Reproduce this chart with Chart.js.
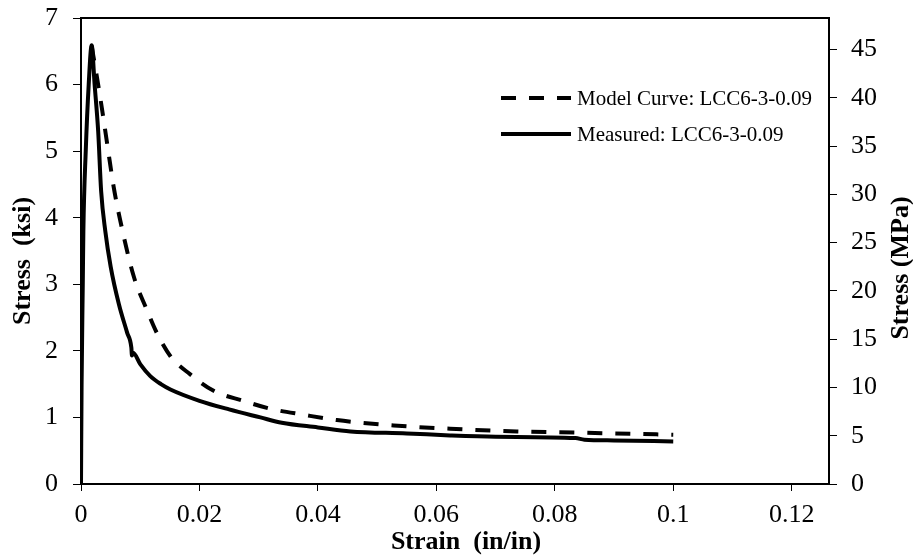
<!DOCTYPE html>
<html>
<head>
<meta charset="utf-8">
<script src="https://cdn.jsdelivr.net/npm/chart.js@4.4.1/dist/chart.umd.min.js"></script>
<style>
  html, body { margin: 0; padding: 0; background: #fff; }
  #wrap { width: 913px; height: 557px; position: relative; }
</style>
</head>
<body>
<div id="wrap"><canvas id="chart"></canvas></div>
<script>
var FONT = "'Liberation Serif', 'Times New Roman', serif";
var KSI_TO_MPA = 6.895;

var modelLabel = "Model Curve: LCC6-3-0.09";
var measuredLabel = "Measured: LCC6-3-0.09";
var leftTitle = "Stress  (ksi)";
var rightTitle = "Stress (MPa)";
var bottomTitle = "Strain  (in/in)";

// model curve (dashed), strain in/in vs stress ksi
var modelStrain = [0.0018, 0.0026, 0.0035, 0.0049, 0.0055, 0.0066, 0.0089, 0.0111, 0.0128, 0.0151,
                   0.0184, 0.0224, 0.0274, 0.032, 0.0376, 0.0432, 0.0528, 0.0623, 0.0736, 0.0848, 0.1];
var modelStress = [6.58, 6.16, 5.66, 4.82, 4.47, 3.97, 3.12, 2.62, 2.27, 1.92,
                   1.65, 1.40, 1.25, 1.13, 1.04, 0.96, 0.88, 0.83, 0.79, 0.77, 0.74];

// measured curve (solid)
var measuredStrain = [0, 0.0001, 0.0003, 0.0004, 0.0008, 0.0013, 0.0018, 0.0023, 0.0029, 0.0034,
                      0.0041, 0.005, 0.0064, 0.0078, 0.0085, 0.0086, 0.0088, 0.01, 0.0117, 0.0135,
                      0.0151, 0.02, 0.025, 0.0303, 0.0339, 0.04, 0.0455, 0.055, 0.0623, 0.07,
                      0.0835, 0.085, 0.09, 0.1];
var measuredStress = [0, 1.5, 3.0, 3.8, 5.0, 6.0, 6.59, 6.0, 5.3, 4.4,
                      3.8, 3.27, 2.7, 2.27, 2.05, 1.93, 1.97, 1.80, 1.62, 1.50,
                      1.42, 1.25, 1.12, 1.0, 0.92, 0.85, 0.79, 0.76, 0.73, 0.71,
                      0.69, 0.665, 0.655, 0.64];

function toPoints(xs, ys) {
  return xs.map(function (x, i) { return { x: x, y: ys[i] }; });
}

function rotatedText(ctx, text, x, y) {
  ctx.save();
  ctx.translate(x, y);
  ctx.rotate(-Math.PI / 2);
  ctx.fillText(text, 0, 0);
  ctx.restore();
}

var extras = {
  id: 'extras',
  afterDraw: function (chart) {
    var ctx = chart.ctx;
    var a = chart.chartArea;
    ctx.save();
    // top frame line
    ctx.strokeStyle = '#000';
    ctx.lineWidth = 2;
    ctx.beginPath();
    ctx.moveTo(a.left, a.top);
    ctx.lineTo(a.right, a.top);
    ctx.stroke();

    // legend inside plot
    ctx.font = '21px ' + FONT;
    ctx.fillStyle = '#000';
    ctx.textBaseline = 'middle';
    ctx.textAlign = 'left';
    chart.data.datasets.forEach(function (ds, i) {
      var y = 98 + i * 36;
      ctx.setLineDash(ds.borderDash || []);
      ctx.lineWidth = ds.borderWidth;
      ctx.strokeStyle = ds.borderColor;
      ctx.beginPath();
      ctx.moveTo(501, y);
      ctx.lineTo(571, y);
      ctx.stroke();
      ctx.setLineDash([]);
      ctx.fillText(ds.label, 577, y + 1);
    });

    // axis titles
    ctx.font = 'bold 26px ' + FONT;
    ctx.textAlign = 'center';
    ctx.fillText(bottomTitle, 466, 542);
    rotatedText(ctx, leftTitle, 23, 261);
    rotatedText(ctx, rightTitle, 901, 268);
    ctx.restore();
  }
};

function fmt(v) { return String(+v.toFixed(3)); }

// keep the plot box where the reference has it
function fixWidth(w) {
  return function (s) { s.width = w; s.paddingTop = 0; s.paddingBottom = 0; };
}

new Chart(document.getElementById('chart'), {
  type: 'line',
  data: {
    datasets: [{
      label: modelLabel,
      data: toPoints(modelStrain, modelStress),
      borderColor: '#000',
      borderWidth: 4,
      borderDash: [15, 13],
      pointRadius: 0,
      cubicInterpolationMode: 'monotone',
      fill: false
    }, {
      label: measuredLabel,
      data: toPoints(measuredStrain, measuredStress),
      borderColor: '#000',
      borderWidth: 4,
      pointRadius: 0,
      cubicInterpolationMode: 'monotone',
      fill: false
    }]
  },
  options: {
    responsive: true,
    maintainAspectRatio: false,
    animation: false,
    devicePixelRatio: 1,
    layout: { autoPadding: false, padding: { top: 18, left: 0, right: 0, bottom: 0 } },
    plugins: { legend: { display: false }, tooltip: { enabled: false } },
    scales: {
      x: {
        type: 'linear',
        min: 0,
        max: 0.1263,
        afterFit: function (s) { s.height = 73; s.paddingLeft = 0; s.paddingRight = 0; },
        border: { color: '#000', width: 2 },
        grid: { drawOnChartArea: false, drawTicks: true, tickLength: 7, color: '#000' },
        ticks: {
          stepSize: 0.02, includeBounds: false, maxRotation: 0, padding: 9,
          color: '#000', font: { family: FONT, size: 26 },
          callback: fmt
        }
      },
      y: {
        type: 'linear',
        position: 'left',
        min: 0,
        max: 7,
        afterFit: fixWidth(81),
        border: { color: '#000', width: 2 },
        grid: { drawOnChartArea: false, drawTicks: true, tickLength: 8, color: '#000' },
        ticks: {
          stepSize: 1, padding: 15, color: '#000',
          font: { family: FONT, size: 26 }
        }
      },
      y2: {
        type: 'linear',
        position: 'right',
        min: 0,
        max: 7 * KSI_TO_MPA,
        afterFit: fixWidth(84),
        border: { color: '#000', width: 2 },
        grid: { drawOnChartArea: false, drawTicks: true, tickLength: 8, color: '#000' },
        ticks: {
          stepSize: 5, includeBounds: false, padding: 14, color: '#000',
          font: { family: FONT, size: 26 }
        }
      }
    }
  },
  plugins: [extras]
});
</script>
</body>
</html>
